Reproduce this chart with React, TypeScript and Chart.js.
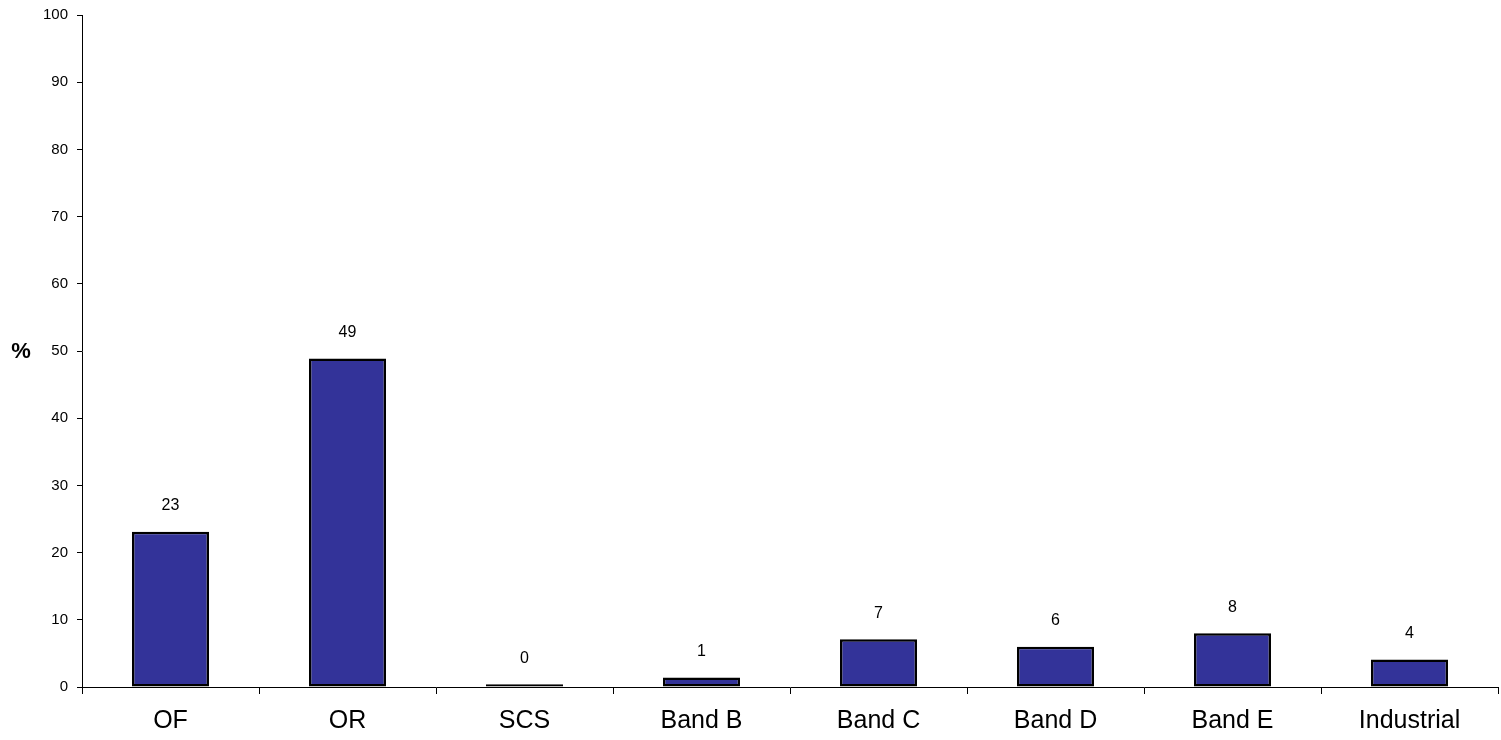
import React, { useEffect, useRef } from "react";
import { Chart, registerables } from "chart.js";

Chart.register(...registerables);

const categories = ["OF", "OR", "SCS", "Band B", "Band C", "Band D", "Band E", "Industrial"];
const values = [23.1, 48.9, 0.4, 1.4, 7.1, 6.0, 8.0, 4.1];
const yTicks = [0, 10, 20, 30, 40, 50, 60, 70, 80, 90, 100];
const yAxisLabel = "%";

const FONT = "'Liberation Sans', Arial, sans-serif";

const labelPlugin = {
  id: "barLabels",
  afterDatasetsDraw(chart: any) {
    const { ctx } = chart;
    const meta = chart.getDatasetMeta(0);
    ctx.save();
    ctx.fillStyle = "#000";
    ctx.font = `16px ${FONT}`;
    ctx.textAlign = "center";
    ctx.textBaseline = "middle";
    meta.data.forEach((bar: any, i: number) => {
      ctx.fillText(String(Math.round(values[i])), bar.x, bar.y - 26);
    });
    ctx.font = `bold 22px ${FONT}`;
    ctx.textAlign = "center";
    ctx.fillText(yAxisLabel, 21, (chart.chartArea.top + chart.chartArea.bottom) / 2 + 1);
    ctx.restore();
  },
};

export default function App() {
  const ref = useRef<HTMLCanvasElement>(null);
  useEffect(() => {
    if (!ref.current) return;
    const chart = new Chart(ref.current, {
      type: "bar",
      data: {
        labels: categories,
        datasets: [
          {
            data: values,
            backgroundColor: "#333399",
            borderColor: "#000000",
            borderWidth: 2.5,
            borderSkipped: false,
            barPercentage: 0.87,
            categoryPercentage: 0.5,
          },
        ],
      },
      options: {
        animation: false,
        responsive: false,
        maintainAspectRatio: false,
        layout: { padding: { top: 0, right: 3, left: 0, bottom: 0 } },
        plugins: { legend: { display: false }, tooltip: { enabled: false } },
        scales: {
          x: {
            grid: {
              offset: true,
              drawOnChartArea: false,
              drawTicks: true,
              tickLength: 7,
              color: "#000",
            },
            border: { display: true, color: "#000", width: 1 },
            ticks: { color: "#000", font: { family: FONT, size: 25 }, padding: 12 },
            afterFit: (s: any) => {
              s.height = 53;
            },
          },
          y: {
            min: 0,
            max: 100,
            afterBuildTicks: (s: any) => {
              s.ticks = yTicks.map((v) => ({ value: v }));
            },
            grid: {
              drawOnChartArea: false,
              drawTicks: true,
              tickLength: 5,
              color: "#000",
            },
            border: { display: true, color: "#000", width: 1 },
            ticks: { color: "#000", font: { family: FONT, size: 15 }, padding: 9 },
            afterFit: (s: any) => {
              s.width = 82;
              s.paddingTop = 15;
            },
          },
        },
      },
      plugins: [labelPlugin],
    });
    return () => chart.destroy();
  }, []);
  return (
    <div style={{ position: "fixed", left: 0, top: 0, width: 1501, height: 740, background: "#fff" }}>
      <canvas ref={ref} width={1501} height={740} style={{ width: 1501, height: 740, display: "block" }} />
    </div>
  );
}
